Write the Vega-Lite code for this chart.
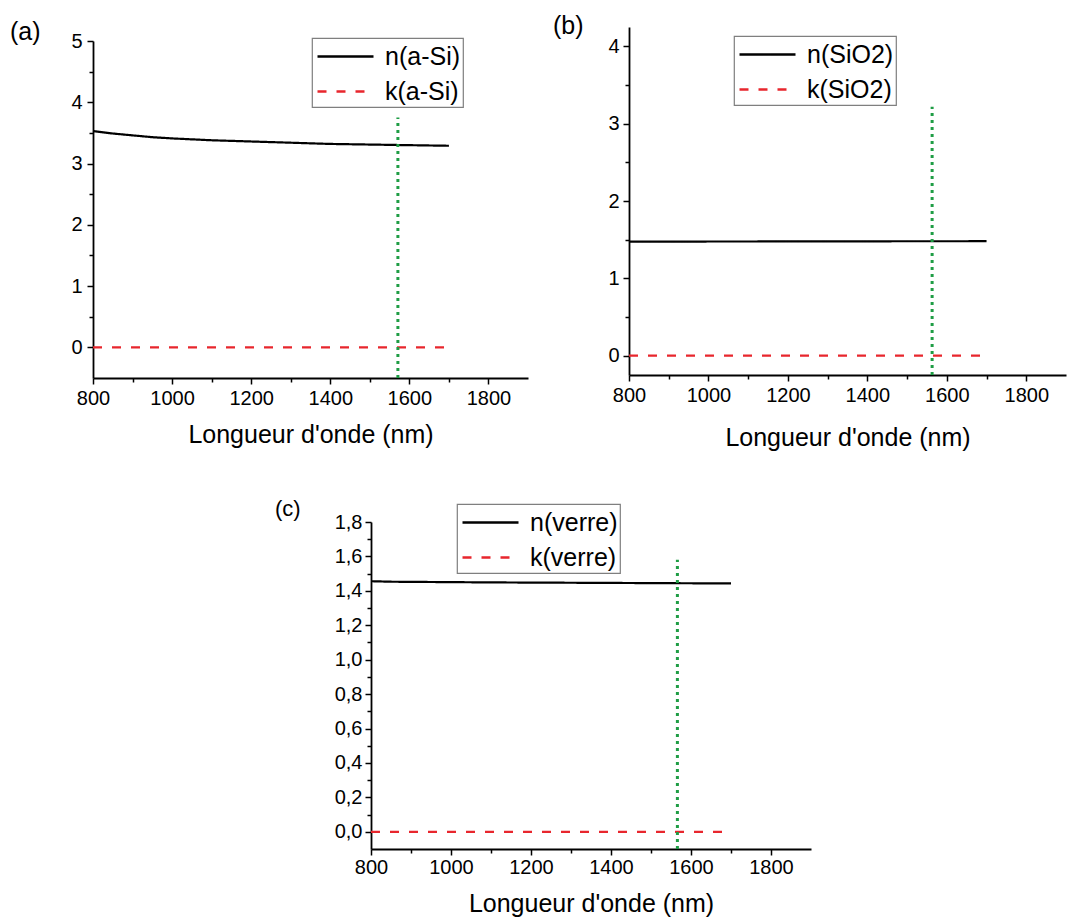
{
  "$schema": "https://vega.github.io/schema/vega-lite/v6.json",
  "background": "white",
  "padding": {"left": 10, "top": 2, "right": 3, "bottom": 3},
  "spacing": 26,
  "resolve": {"scale": {"x": "independent", "y": "independent", "color": "independent", "strokeDash": "independent"}, "legend": {"color": "independent", "strokeDash": "independent"}},
  "config": {
    "font": "Liberation Sans",
    "view": {"stroke": null},
    "axis": {
      "grid": false,
      "domainColor": "#000000",
      "domainWidth": 1.8,
      "tickColor": "#000000",
      "tickWidth": 1.5,
      "labelColor": "#000000",
      "labelFont": "Liberation Sans",
      "labelFontSize": 20,
      "labelFlush": false,
      "labelOverlap": false,
      "titleFont": "Liberation Sans",
      "titleFontSize": 25,
      "titleFontWeight": "normal",
      "titleColor": "#000000"
    },
    "legend": {
      "orient": "none",
      "strokeColor": "#7f7f7f",
      "strokeWidth": 1.2,
      "padding": 2,
      "labelFont": "Liberation Sans",
      "labelFontSize": 25,
      "labelColor": "#000000",
      "labelOffset": 36,
      "symbolOffset": 2,
      "rowPadding": 5,
      "symbolType": "M-1,0H2.7333",
      "symbolSize": 900,
      "symbolStrokeWidth": 2.4,
      "fillColor": "white"
    },
    "title": {
      "anchor": "start",
      "frame": "group",
      "font": "Liberation Sans",
      "fontSize": 25,
      "fontWeight": "normal",
      "color": "#000000",
      "offset": 0
    }
  },
  "vconcat": [
    {
      "spacing": 25,
      "resolve": {"scale": {"x": "independent", "y": "independent", "color": "independent", "strokeDash": "independent"}, "legend": {"color": "independent", "strokeDash": "independent"}},
      "hconcat": [
        {
          "bounds": "flush",
          "spacing": 0,
          "resolve": {"scale": {"color": "independent", "strokeDash": "independent"}, "legend": {"color": "independent", "strokeDash": "independent"}},
          "vconcat": [
            {
              "width": 435,
              "height": 39,
              "data": {"values": [{"vide": 0}]},
              "mark": {"type": "point", "opacity": 0},
              "encoding": {}
            },
            {
              "width": 435,
              "height": 337,
              "title": {"text": "(a)", "dx": -83, "dy": 18},
              "encoding": {
                "x": {
                  "field": "lambda", "type": "quantitative",
                  "scale": {"domain": [800, 1900], "nice": false, "zero": false},
                  "axis": {
                    "title": "Longueur d'onde (nm)",
                    "values": [800, 900, 1000, 1100, 1200, 1300, 1400, 1500, 1600, 1700, 1800],
                    "labelExpr": "datum.value % 200 === 0 ? format(datum.value, 'd') : ''",
                    "tickSize": {"condition": {"test": "datum.value % 200 === 0", "value": 6}, "value": 4},
                    "labelPadding": 4,
                    "titlePadding": 14
                  }
                },
                "y": {
                  "field": "valeur", "type": "quantitative",
                  "scale": {"domain": [-0.5, 5], "nice": false, "zero": false},
                  "axis": {
                    "title": null,
                    "values": [0, 0.5, 1, 1.5, 2, 2.5, 3, 3.5, 4, 4.5, 5],
                    "labelExpr": "datum.value % 1 === 0 ? format(datum.value, 'd') : ''",
                    "tickSize": {"condition": {"test": "datum.value % 1 === 0", "value": 6}, "value": 4},
                    "labelPadding": 5
                  }
                }
              },
              "layer": [
                {
                  "data": {"values": [
                    {"lambda": 800, "valeur": 3.53, "serie": "n(a-Si)"},
                    {"lambda": 850, "valeur": 3.49, "serie": "n(a-Si)"},
                    {"lambda": 900, "valeur": 3.46, "serie": "n(a-Si)"},
                    {"lambda": 950, "valeur": 3.43, "serie": "n(a-Si)"},
                    {"lambda": 1000, "valeur": 3.41, "serie": "n(a-Si)"},
                    {"lambda": 1100, "valeur": 3.38, "serie": "n(a-Si)"},
                    {"lambda": 1200, "valeur": 3.36, "serie": "n(a-Si)"},
                    {"lambda": 1300, "valeur": 3.34, "serie": "n(a-Si)"},
                    {"lambda": 1400, "valeur": 3.32, "serie": "n(a-Si)"},
                    {"lambda": 1500, "valeur": 3.31, "serie": "n(a-Si)"},
                    {"lambda": 1600, "valeur": 3.3, "serie": "n(a-Si)"},
                    {"lambda": 1700, "valeur": 3.29, "serie": "n(a-Si)"},
                    {"lambda": 800, "valeur": 0, "serie": "k(a-Si)"},
                    {"lambda": 1700, "valeur": 0, "serie": "k(a-Si)"}
                  ]},
                  "mark": {"type": "line", "strokeWidth": 2.2},
                  "encoding": {
                    "color": {
                      "field": "serie", "type": "nominal",
                      "scale": {"domain": ["n(a-Si)", "k(a-Si)"], "range": ["#000000", "#e8262d"]},
                      "legend": {"title": null, "legendX": 219, "legendY": -3}
                    },
                    "strokeDash": {
                      "field": "serie", "type": "nominal",
                      "scale": {"domain": ["n(a-Si)", "k(a-Si)"], "range": [[1, 0], [9, 10]]},
                      "legend": {"title": null, "legendX": 219, "legendY": -3}
                    }
                  }
                },
                {
                  "data": {"values": [{"lambda": 1571, "valeur": -0.5, "valeur_haut": 3.75}]},
                  "mark": {"type": "rule", "color": "#1f9d45", "strokeWidth": 3, "strokeDash": [3, 4]},
                  "encoding": {"y2": {"field": "valeur_haut"}}
                }
              ]
            },
            {
              "width": 435,
              "height": 85,
              "data": {"values": [{"vide": 0}]},
              "mark": {"type": "point", "opacity": 0},
              "encoding": {}
            }
          ]
        },
        {
          "bounds": "flush",
          "spacing": 0,
          "resolve": {"scale": {"color": "independent", "strokeDash": "independent"}, "legend": {"color": "independent", "strokeDash": "independent"}},
          "vconcat": [
            {
              "width": 437,
              "height": 25,
              "data": {"values": [{"vide": 0}]},
              "mark": {"type": "point", "opacity": 0},
              "encoding": {}
            },
            {
              "width": 437,
              "height": 348,
              "title": {"text": "(b)", "dx": -76, "dy": 16},
              "encoding": {
                "x": {
                  "field": "lambda", "type": "quantitative",
                  "scale": {"domain": [800, 1900], "nice": false, "zero": false},
                  "axis": {
                    "title": "Longueur d'onde (nm)",
                    "values": [800, 900, 1000, 1100, 1200, 1300, 1400, 1500, 1600, 1700, 1800],
                    "labelExpr": "datum.value % 200 === 0 ? format(datum.value, 'd') : ''",
                    "tickSize": {"condition": {"test": "datum.value % 200 === 0", "value": 6}, "value": 4},
                    "labelPadding": 4,
                    "titlePadding": 20
                  }
                },
                "y": {
                  "field": "valeur", "type": "quantitative",
                  "scale": {"domain": [-0.25, 4.25], "nice": false, "zero": false},
                  "axis": {
                    "title": null,
                    "values": [0, 0.5, 1, 1.5, 2, 2.5, 3, 3.5, 4],
                    "labelExpr": "datum.value % 1 === 0 ? format(datum.value, 'd') : ''",
                    "tickSize": {"condition": {"test": "datum.value % 1 === 0", "value": 6}, "value": 4},
                    "labelPadding": 4
                  }
                }
              },
              "layer": [
                {
                  "data": {"values": [
                    {"lambda": 800, "valeur": 1.475, "serie": "n(SiO2)"},
                    {"lambda": 1000, "valeur": 1.476, "serie": "n(SiO2)"},
                    {"lambda": 1200, "valeur": 1.477, "serie": "n(SiO2)"},
                    {"lambda": 1400, "valeur": 1.479, "serie": "n(SiO2)"},
                    {"lambda": 1700, "valeur": 1.48, "serie": "n(SiO2)"},
                    {"lambda": 800, "valeur": 0, "serie": "k(SiO2)"},
                    {"lambda": 1700, "valeur": 0, "serie": "k(SiO2)"}
                  ]},
                  "mark": {"type": "line", "strokeWidth": 2.2},
                  "encoding": {
                    "color": {
                      "field": "serie", "type": "nominal",
                      "scale": {"domain": ["n(SiO2)", "k(SiO2)"], "range": ["#000000", "#e8262d"]},
                      "legend": {"title": null, "legendX": 105, "legendY": 9}
                    },
                    "strokeDash": {
                      "field": "serie", "type": "nominal",
                      "scale": {"domain": ["n(SiO2)", "k(SiO2)"], "range": [[1, 0], [9, 10]]},
                      "legend": {"title": null, "legendX": 105, "legendY": 9}
                    }
                  }
                },
                {
                  "data": {"values": [{"lambda": 1563, "valeur": -0.25, "valeur_haut": 3.22}]},
                  "mark": {"type": "rule", "color": "#1f9d45", "strokeWidth": 3, "strokeDash": [3, 4]},
                  "encoding": {"y2": {"field": "valeur_haut"}}
                }
              ]
            },
            {
              "width": 437,
              "height": 85,
              "data": {"values": [{"vide": 0}]},
              "mark": {"type": "point", "opacity": 0},
              "encoding": {}
            }
          ]
        }
      ]
    },
    {
      "spacing": 0,
      "resolve": {"scale": {"x": "independent", "y": "independent", "color": "independent", "strokeDash": "independent"}, "legend": {"color": "independent", "strokeDash": "independent"}},
      "hconcat": [
        {
          "width": 182,
          "height": 1,
          "data": {"values": [{"vide": 0}]},
          "mark": {"type": "point", "opacity": 0},
          "encoding": {}
        },
        {
          "bounds": "flush",
          "spacing": 0,
          "resolve": {"scale": {"color": "independent", "strokeDash": "independent"}, "legend": {"color": "independent", "strokeDash": "independent"}},
          "vconcat": [
            {
              "width": 440,
              "height": 30,
              "data": {"values": [{"vide": 0}]},
              "mark": {"type": "point", "opacity": 0},
              "encoding": {}
            },
            {
              "width": 440,
              "height": 327,
              "title": {"text": "(c)", "dx": -96, "dy": 22, "fontSize": 22},
              "encoding": {
                "x": {
                  "field": "lambda", "type": "quantitative",
                  "scale": {"domain": [800, 1900], "nice": false, "zero": false},
                  "axis": {
                    "title": "Longueur d'onde (nm)",
                    "values": [800, 900, 1000, 1100, 1200, 1300, 1400, 1500, 1600, 1700, 1800],
                    "labelExpr": "datum.value % 200 === 0 ? format(datum.value, 'd') : ''",
                    "tickSize": {"condition": {"test": "datum.value % 200 === 0", "value": 6}, "value": 4},
                    "labelPadding": 2,
                    "titlePadding": 14
                  }
                },
                "y": {
                  "field": "valeur", "type": "quantitative",
                  "scale": {"domain": [-0.1, 1.8], "nice": false, "zero": false},
                  "axis": {
                    "title": null,
                    "values": [0, 0.1, 0.2, 0.3, 0.4, 0.5, 0.6, 0.7, 0.8, 0.9, 1, 1.1, 1.2, 1.3, 1.4, 1.5, 1.6, 1.7, 1.8],
                    "labelExpr": "round(datum.value * 10) % 2 === 0 ? replace(format(datum.value, '.1f'), '.', ',') : ''",
                    "tickSize": {"condition": {"test": "round(datum.value * 10) % 2 === 0", "value": 6}, "value": 4},
                    "labelPadding": 3
                  }
                }
              },
              "layer": [
                {
                  "data": {"values": [
                    {"lambda": 800, "valeur": 1.456, "serie": "n(verre)"},
                    {"lambda": 850, "valeur": 1.453, "serie": "n(verre)"},
                    {"lambda": 1100, "valeur": 1.449, "serie": "n(verre)"},
                    {"lambda": 1400, "valeur": 1.446, "serie": "n(verre)"},
                    {"lambda": 1700, "valeur": 1.443, "serie": "n(verre)"},
                    {"lambda": 800, "valeur": 0, "serie": "k(verre)"},
                    {"lambda": 1700, "valeur": 0, "serie": "k(verre)"}
                  ]},
                  "mark": {"type": "line", "strokeWidth": 2.2},
                  "encoding": {
                    "color": {
                      "field": "serie", "type": "nominal",
                      "scale": {"domain": ["n(verre)", "k(verre)"], "range": ["#000000", "#e8262d"]},
                      "legend": {"title": null, "legendX": 86, "legendY": -18}
                    },
                    "strokeDash": {
                      "field": "serie", "type": "nominal",
                      "scale": {"domain": ["n(verre)", "k(verre)"], "range": [[1, 0], [9, 10]]},
                      "legend": {"title": null, "legendX": 86, "legendY": -18}
                    }
                  }
                },
                {
                  "data": {"values": [{"lambda": 1566, "valeur": -0.1, "valeur_haut": 1.58}]},
                  "mark": {"type": "rule", "color": "#1f9d45", "strokeWidth": 3, "strokeDash": [3, 4]},
                  "encoding": {"y2": {"field": "valeur_haut"}}
                }
              ]
            }
          ]
        }
      ]
    }
  ]
}
